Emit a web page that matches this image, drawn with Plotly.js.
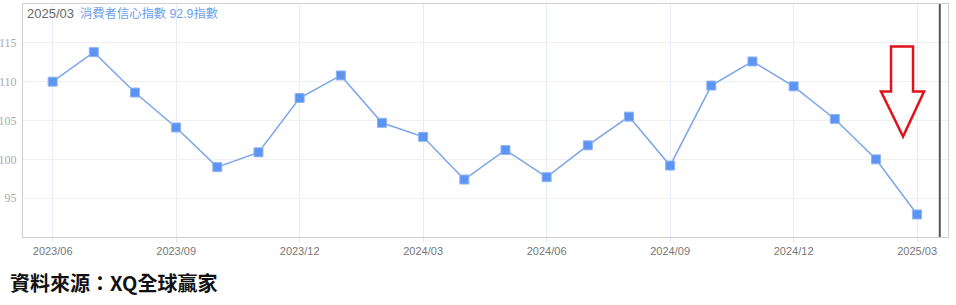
<!DOCTYPE html>
<html>
<head>
<meta charset="utf-8">
<script src="https://cdn.plot.ly/plotly-3.0.1.min.js"></script>
<style>html,body{margin:0;padding:0;background:#fff;}#chart{width:956px;height:305px;}</style>
</head>
<body>
<div id="chart"></div>
<script>
const months = ["2023/06","2023/07","2023/08","2023/09","2023/10","2023/11","2023/12",
  "2024/01","2024/02","2024/03","2024/04","2024/05","2024/06","2024/07","2024/08",
  "2024/09","2024/10","2024/11","2024/12","2025/01","2025/02","2025/03"];
const consumerConfidence = [110.0,113.8,108.6,104.1,99.0,100.9,107.9,
  110.8,104.7,102.9,97.4,101.2,97.7,101.8,105.5,
  99.2,109.5,112.6,109.4,105.2,100.0,92.9];
const xTickLabels = ["2023/06","2023/09","2023/12","2024/03","2024/06","2024/09","2024/12","2025/03"];
const yTicks = [95,100,105,110,115];
const headerDate = "2025/03";
const headerText = "消費者信心指數 92.9指數";
const sourceText = "資料來源：XQ全球贏家";

const trace = {
  x: months, y: consumerConfidence, type: 'scatter', mode: 'lines+markers',
  line: {color: '#7aa5ea', width: 1.5},
  marker: {symbol: 'square', size: 9, color: '#5b94f2', line: {color: '#8fb5f0', width: 1}},
  hoverinfo: 'skip'
};

const layout = {
  width: 956, height: 305,
  margin: {l: 23, r: 8, t: 4, b: 68},
  paper_bgcolor: '#fff', plot_bgcolor: '#fff',
  showlegend: false,
  xaxis: {
    type: 'category', range: [-0.72, 21.75],
    tickmode: 'array', tickvals: xTickLabels, ticktext: xTickLabels,
    showgrid: true, gridcolor: '#e4eefa', gridwidth: 1,
    showline: true, linecolor: '#cfcfcf', linewidth: 1, mirror: true,
    ticks: 'outside', ticklen: 4, tickcolor: '#dde6f0',
    tickfont: {family: 'Liberation Sans, Arial, sans-serif', size: 11, color: '#777'},
    zeroline: false, fixedrange: true
  },
  yaxis: {
    range: [90, 120], tickmode: 'array', tickvals: yTicks,
    showgrid: true, gridcolor: '#f0f0f0', gridwidth: 1,
    showline: true, linecolor: '#cfcfcf', linewidth: 1, mirror: true,
    ticks: '', ticklabelstandoff: 3,
    tickfont: {family: 'Liberation Serif, DejaVu Serif, serif', size: 12, color: '#aaa'},
    zeroline: false, fixedrange: true
  },
  shapes: [
    {type: 'line', xref: 'x', yref: 'paper', x0: 21.55, x1: 21.55, y0: 0, y1: 1,
     line: {color: '#555', width: 2}},
    {type: 'path', xref: 'paper', yref: 'paper',
     path: 'M0.9384,0.8176 L0.9622,0.8176 L0.9622,0.6245 L0.9741,0.6245 L0.9514,0.4313 L0.9276,0.6245 L0.9384,0.6245 Z',
     line: {color: '#e0121b', width: 2.5}, fillcolor: 'rgba(0,0,0,0)'}
  ],
  annotations: [
    {xref: 'paper', yref: 'paper', x: 0, y: 1, xanchor: 'left', yanchor: 'top',
     xshift: 2, yshift: 0, showarrow: false, text: headerDate,
     font: {family: 'Liberation Sans, Arial, sans-serif', size: 13, color: '#666'}},
    {xref: 'paper', yref: 'paper', x: 0, y: 1, xanchor: 'left', yanchor: 'top',
     xshift: 55, yshift: 0, showarrow: false, text: headerText,
     font: {family: 'Liberation Sans, Noto Sans CJK TC, sans-serif', size: 12.3, color: '#6d9eeb'}},
    {xref: 'paper', yref: 'paper', x: -0.0162, y: -0.197, xanchor: 'left', yanchor: 'middle',
     showarrow: false, text: '<b>' + sourceText + '</b>',
     font: {family: 'Noto Sans CJK TC, sans-serif', size: 20, color: '#111'}}
  ]
};

Plotly.newPlot('chart', [trace], layout, {displayModeBar: false, staticPlot: true});
</script>
</body>
</html>
